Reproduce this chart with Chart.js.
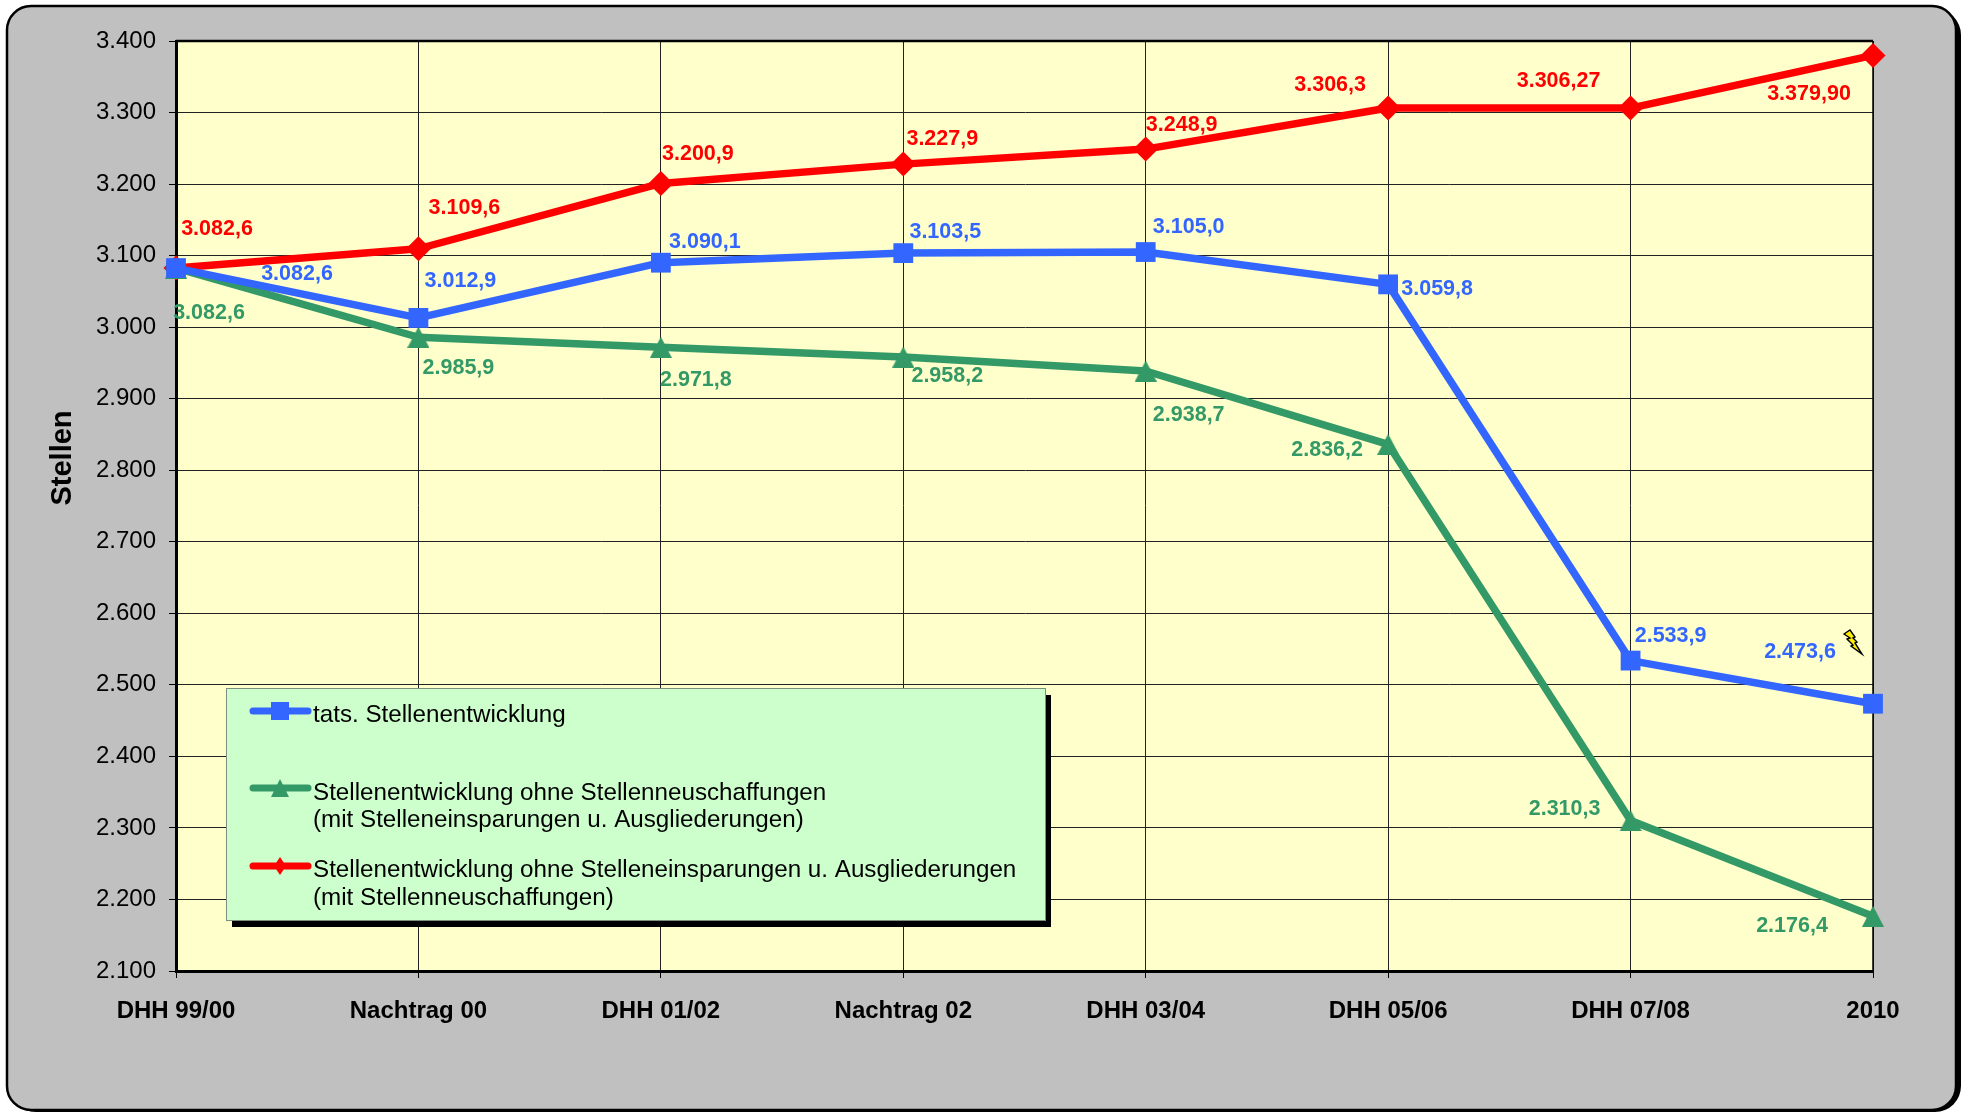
<!DOCTYPE html>
<html lang="de">
<head>
<meta charset="utf-8">
<title>Stellenentwicklung</title>
<style>html,body{margin:0;padding:0;background:#fff}canvas{display:block}</style>
<script src="https://cdn.jsdelivr.net/npm/chart.js@4"></script>
</head>
<body>
<canvas id="c" width="1966" height="1112"></canvas>
<script>
const categories = ["DHH 99/00","Nachtrag 00","DHH 01/02","Nachtrag 02","DHH 03/04","DHH 05/06","DHH 07/08","2010"];
const actualValues = [3082.6,3012.9,3090.1,3103.5,3105.0,3059.8,2533.9,2473.6];
const withoutNewValues = [3082.6,2985.9,2971.8,2958.2,2938.7,2836.2,2310.3,2176.4];
const withoutSavingsValues = [3082.6,3109.6,3200.9,3227.9,3248.9,3306.3,3306.27,3379.90];
const actualLabels = ["3.082,6","3.012,9","3.090,1","3.103,5","3.105,0","3.059,8","2.533,9","2.473,6"];
const withoutNewLabels = ["3.082,6","2.985,9","2.971,8","2.958,2","2.938,7","2.836,2","2.310,3","2.176,4"];
const withoutSavingsLabels = ["3.082,6","3.109,6","3.200,9","3.227,9","3.248,9","3.306,3","3.306,27","3.379,90"];
const actualOffsets = [[121,6],[42,-37],[44,-21],[42,-21],[43,-25],[49,5],[40,-25],[-73,-52]];
const withoutNewOffsets = [[33,45],[40,31],[35,33],[44,19],[43,44],[-61,6],[-66,-11],[-81,10]];
const withoutSavingsOffsets = [[41,-39],[46,-41],[37,-29],[39,-25],[36,-24],[-58,-23],[-72,-27],[-64,39]];
const seriesNames = [["tats. Stellenentwicklung"],
  ["Stellenentwicklung ohne Stellenneuschaffungen","(mit Stelleneinsparungen u. Ausgliederungen)"],
  ["Stellenentwicklung ohne Stelleneinsparungen u. Ausgliederungen","(mit Stellenneuschaffungen)"]];
const axisName = "Stellen";
const BLUE="#3366FF", GREEN="#339966", RED="#FF0000";
const FONT='"Liberation Sans", Arial, sans-serif';

function triangleMark(w,h,color){
  const c=document.createElement("canvas");c.width=w;c.height=h;
  const x=c.getContext("2d");x.fillStyle=color;x.beginPath();
  x.moveTo(w/2,0);x.lineTo(w,h);x.lineTo(0,h);x.closePath();x.fill();return c;
}
const triangle=triangleMark(22,21,GREEN);

const dataset=(label,data,color,style,radius,dataLabels,offsets)=>({
  label,data,borderColor:color,backgroundColor:color,borderWidth:7.5,tension:0,clip:false,
  pointStyle:style,pointRadius:radius,pointHoverRadius:radius,pointBorderWidth:0,
  dataLabels,offsets,
  borderCapStyle:"round",borderJoinStyle:"round"
});

const backdrop={id:"backdrop",beforeDraw(ch){
  const g=ch.ctx,a=ch.chartArea;
  g.save();
  g.fillStyle="#fff";g.fillRect(0,0,ch.width,ch.height);
  g.fillStyle="#000";g.beginPath();g.roundRect(10,9,1951,1103,26);g.fill();
  g.fillStyle="#C0C0C0";g.strokeStyle="#000";g.lineWidth=2.5;
  g.beginPath();g.roundRect(7,6,1949,1104,24);g.fill();g.stroke();
  g.fillStyle="#FFFFCC";g.fillRect(a.left,a.top,a.right-a.left,a.bottom-a.top);
  g.restore();
}};

const overlay={id:"overlay",
 beforeDatasetsDraw(ch){
  const g=ch.ctx,a=ch.chartArea;
  g.save();g.strokeStyle="#000";g.lineWidth=2.5;
  g.beginPath();g.moveTo(a.left,a.top);g.lineTo(a.right,a.top);g.stroke();
  g.lineWidth=1.5;g.beginPath();g.moveTo(a.right,a.top);g.lineTo(a.right,a.bottom);g.stroke();
  // legend box
  g.fillStyle="#000";g.fillRect(232,695,819,232);
  g.fillStyle="#CCFFCC";g.strokeStyle="#7F8F7F";g.lineWidth=1;
  g.fillRect(226.5,688.5,819,232);g.strokeRect(226.5,688.5,819,232);
  g.restore();
 },
 afterDatasetsDraw(ch){
  const g=ch.ctx;
  g.save();
  // axis title
  g.save();g.translate(63,458);g.rotate(-Math.PI/2);
  g.font="bold 29px "+FONT;g.fillStyle="#000";g.textAlign="center";g.textBaseline="middle";
  g.fillText(axisName,0,0);g.restore();
  // legend entries
  const rows=[711,788,866], textRows=[[715],[793,820],[870,898]];
  ch.data.datasets.forEach((d,i)=>{
    const y=rows[i];
    g.strokeStyle=d.borderColor;g.lineWidth=7;g.lineCap="round";
    g.beginPath();g.moveTo(253,y);g.lineTo(308,y);g.stroke();
    g.fillStyle=d.borderColor;
    if(i===0){g.fillRect(271,y-9,18,18);}
    else if(i===1){g.drawImage(triangleMark(18,18,GREEN),271,y-9);}
    else{g.beginPath();g.moveTo(280,y-9);g.lineTo(286,y);g.lineTo(280,y+9);g.lineTo(274,y);g.closePath();g.fill();}
    g.fillStyle="#000";g.font="24.2px "+FONT;g.textAlign="left";g.textBaseline="middle";
    seriesNames[i].forEach((t,j)=>g.fillText(t,313,textRows[i][j]));
  });
  // value labels
  g.font="bold 21.5px "+FONT;g.textAlign="center";g.textBaseline="middle";
  ch.data.datasets.forEach((d,i)=>{
    ch.getDatasetMeta(i).data.forEach((p,k)=>{
      g.fillStyle=d.borderColor;
      g.fillText(d.dataLabels[k],p.x+d.offsets[k][0],p.y+d.offsets[k][1]);
    });
  });
  // small lightning mark
  const a=ch.chartArea,ox=a.right-20,oy=a.bottom-329;
  g.fillStyle="#FFEE00";g.strokeStyle="#000";g.lineWidth=1.4;g.lineJoin="miter";
  g.beginPath();
  [[-9,-8],[-3,-12],[2,-5],[0,-4],[4,0],[2,1],[9,12],[-2,4],[0,3],[-6,-3],[-3,-4]].forEach((q,n)=>n?g.lineTo(ox+q[0],oy+q[1]):g.moveTo(ox+q[0],oy+q[1]));
  g.closePath();g.fill();g.stroke();
  g.restore();
 }};

new Chart(document.getElementById("c"),{
  type:"line",
  data:{labels:categories,datasets:[
    dataset(seriesNames[0].join(" "),actualValues,BLUE,"rect",14,actualLabels,actualOffsets),
    dataset(seriesNames[1].join(" "),withoutNewValues,GREEN,triangle,11,withoutNewLabels,withoutNewOffsets),
    dataset(seriesNames[2].join(" "),withoutSavingsValues,RED,"rectRot",12.5,withoutSavingsLabels,withoutSavingsOffsets)
  ]},
  options:{
    responsive:false,animation:false,devicePixelRatio:1,
    layout:{padding:{top:41,right:93,left:0,bottom:0}},
    plugins:{legend:{display:false},tooltip:{enabled:false},title:{display:false}},
    scales:{
      x:{type:"category",offset:false,
        afterFit(s){s.height=141;},
        grid:{color:"#222",lineWidth:1,tickLength:7,tickColor:"#000",drawOnChartArea:true},
        border:{color:"#000",width:3},
        ticks:{color:"#000",font:{family:FONT,size:24,weight:"bold"},padding:19,maxRotation:0,autoSkip:false}
      },
      y:{min:2100,max:3400,
        afterFit(s){s.width=176;},
        grid:{color:"#222",lineWidth:1,tickLength:7,tickColor:"#000"},
        border:{color:"#000",width:3},
        ticks:{stepSize:100,color:"#000",font:{family:FONT,size:24},padding:13,autoSkip:false,
          callback:v=>String(v).replace(/(\d)(\d{3})$/,"$1.$2")}
      }
    }
  },
  plugins:[backdrop,overlay]
});
</script>
</body>
</html>
